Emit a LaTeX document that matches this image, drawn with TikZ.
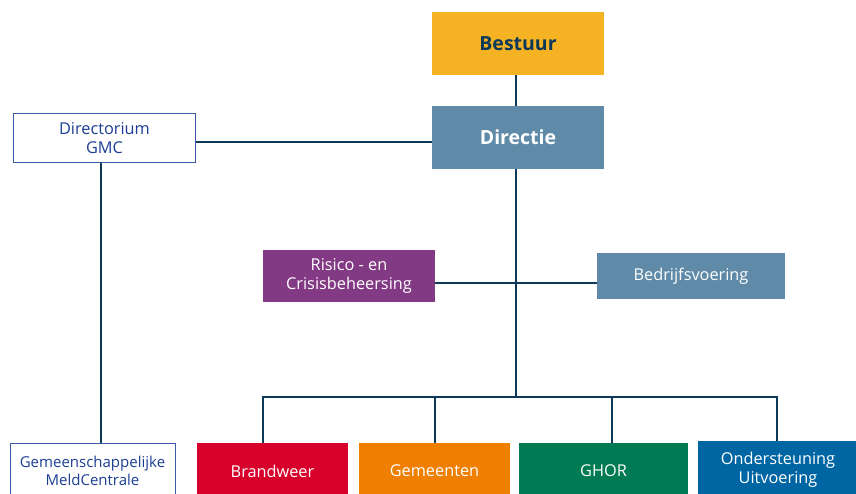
\documentclass[tikz,border=0pt]{standalone}
\usepackage{fontspec}
\setmainfont{Open Sans}
\definecolor{navy}{HTML}{0E3A5A}
\definecolor{cbestuur}{HTML}{F5B324}
\definecolor{csteel}{HTML}{5F8BA8}
\definecolor{cpurple}{HTML}{833A85}
\definecolor{cred}{HTML}{D7002A}
\definecolor{corange}{HTML}{EE7F00}
\definecolor{cgreen}{HTML}{007A53}
\definecolor{cblue}{HTML}{0066A3}
\definecolor{cdarkblue}{HTML}{1C3F94}
\definecolor{cborder}{HTML}{3D5AA6}
\tikzset{
  box/.style={rectangle, inner sep=0pt, align=center, text=white, font=\fontsize{16.3}{18.5}\selectfont},
  whitebox/.style={box, draw=cborder, line width=1pt, fill=white, text=cdarkblue},
  link/.style={draw=navy, line width=2pt},
}
\begin{document}
\begin{tikzpicture}[x=1pt,y=-1pt]
\useasboundingbox (0,0) rectangle (856,493);
\node[box, fill=cbestuur, text=navy, font=\fontsize{19.5}{22}\selectfont\bfseries, minimum width=172pt, minimum height=63pt] (bestuur) at (518,43.5) {Bestuur};
\node[box, fill=csteel, font=\fontsize{19.5}{22}\selectfont\bfseries, minimum width=172pt, minimum height=63pt] (directie) at (518,137.5) {Directie};
\node[whitebox, minimum width=182pt, minimum height=49pt] (directorium) at (104.5,138) {Directorium\\GMC};
\node[box, fill=cpurple, minimum width=172pt, minimum height=52pt] (risico) at (349,276) {Risico - en\\Crisisbeheersing};
\node[box, fill=csteel, minimum width=188pt, minimum height=46pt] (bedrijf) at (691,276) {Bedrijfsvoering};
\node[whitebox, font=\fontsize{15}{18}\selectfont, minimum width=165pt, minimum height=56pt] (gmc) at (92.5,471) {Gemeenschappelijke\\MeldCentrale};
\node[box, fill=cred, minimum width=151pt, minimum height=56pt] (brandweer) at (272.5,471) {Brandweer};
\node[box, fill=corange, minimum width=151pt, minimum height=56pt] (gemeenten) at (434.5,471) {Gemeenten};
\node[box, fill=cgreen, minimum width=169pt, minimum height=56pt] (ghor) at (603.5,471) {GHOR};
\node[box, fill=cblue, minimum width=160pt, minimum height=58pt] (onder) at (778,470) {Ondersteuning\\Uitvoering};
\coordinate (mainx) at (516,0);
\coordinate (gmcx) at (101,0);
\coordinate (b1) at (263,397);
\coordinate (b2) at (435,397);
\coordinate (b3) at (612,397);
\coordinate (b4) at (777,397);
\coordinate (midrow) at (0,283);
\coordinate (toprow) at (0,142);
\draw[link] (bestuur.south -| mainx) -- (directie.north -| mainx);
\draw[link] (directie.south -| mainx) -- (mainx |- b1);
\draw[link] (directorium.east |- toprow) -- (directie.west |- toprow);
\draw[link] (directorium.south -| gmcx) -- (gmc.north -| gmcx);
\draw[link] (risico.east |- midrow) -- (bedrijf.west |- midrow);
\draw[link] (brandweer.north -| b1) -- (b1) -- (b4) -- (onder.north -| b4);
\draw[link] (b2) -- (gemeenten.north -| b2);
\draw[link] (b3) -- (ghor.north -| b3);
\end{tikzpicture}
\end{document}
